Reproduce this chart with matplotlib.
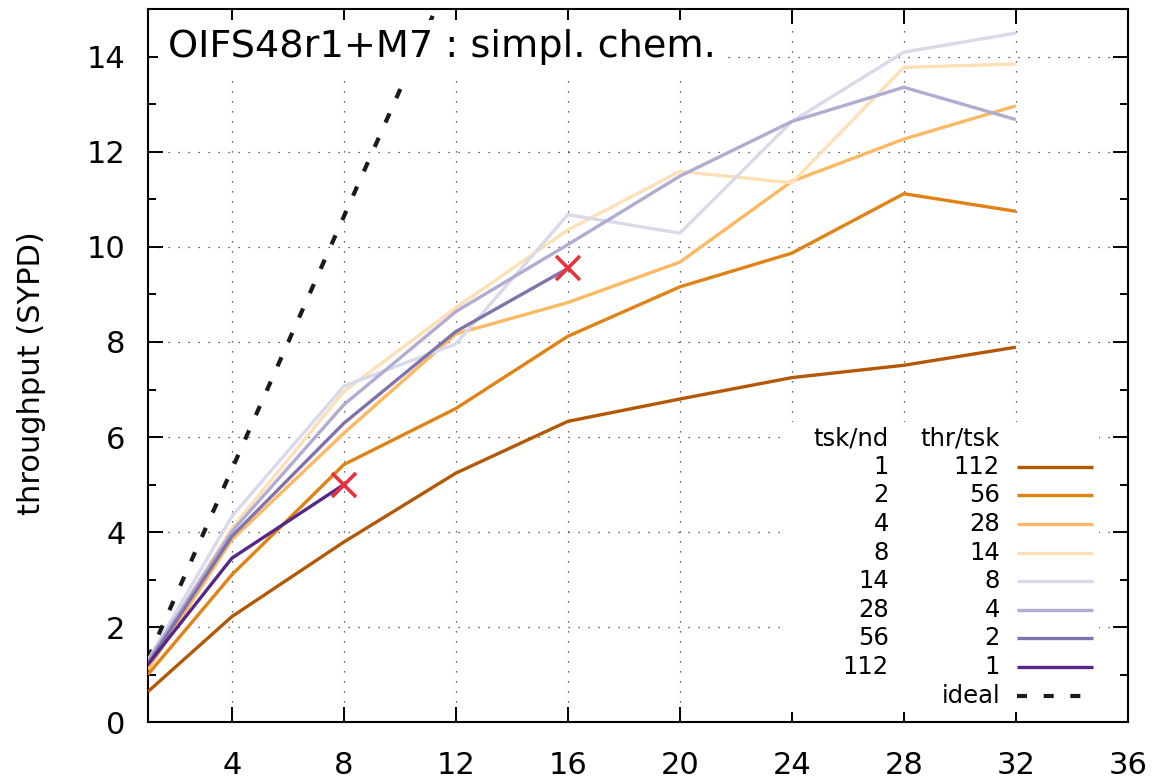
import numpy as np
import matplotlib.pyplot as plt
from matplotlib.patches import Rectangle

# nodes used in the scaling runs
nodes = [1, 4, 8, 12, 16, 20, 24, 28, 32]

# tasks per node / threads per task
tsk_per_nd = [1, 2, 4, 8, 14, 28, 56, 112]
thr_per_tsk = [112, 56, 28, 14, 8, 4, 2, 1]

# throughput (SYPD) for each layout
sypd_1x112 = [0.64, 2.22, 3.79, 5.24, 6.33, 6.80, 7.25, 7.51, 7.89]
sypd_2x56 = [1.00, 3.10, 5.42, 6.60, 8.12, 9.16, 9.87, 11.12, 10.75]
sypd_4x28 = [1.10, 3.84, 6.08, 8.17, 8.83, 9.68, 11.38, 12.27, 12.97]
sypd_8x14 = [1.25, 4.08, 6.96, 8.72, 10.36, 11.59, 11.35, 13.78, 13.85]
sypd_14x8 = [1.30, 4.33, 7.07, 7.96, 10.68, 10.29, 12.64, 14.10, 14.50]
sypd_28x4 = [1.28, 4.01, 6.68, 8.64, 10.05, 11.49, 12.64, 13.36, 12.68]
sypd_56x2 = [1.22, 3.91, 6.29, 8.22, 9.55]
sypd_112x1 = [1.21, 3.45, 5.00]

# ideal linear scaling from the single node value
ideal_x = [1, 12]
ideal_y = [1.33, 15.96]

# runs that did not finish (memory)
fail_x = [8, 16]
fail_y = [5.00, 9.55]

series = [sypd_1x112, sypd_2x56, sypd_4x28, sypd_8x14,
          sypd_14x8, sypd_28x4, sypd_56x2, sypd_112x1]
colors = ['#b35806', '#e08214', '#fdb863', '#fee0b6',
          '#d8daeb', '#b2abd2', '#8073ac', '#542788']

fig = plt.figure(figsize=(11.64, 7.79), dpi=100)
ax = fig.add_axes([0.127, 0.073, 0.842, 0.915])

for vals, c in zip(series, colors):
    ax.plot(nodes[:len(vals)], vals, color=c, lw=2.4, solid_capstyle='butt', zorder=3)

ax.plot(ideal_x, ideal_y, color='#1a1a1a', lw=3.0, dashes=(2.4, 4.0), zorder=2)
ax.plot(fail_x, fail_y, 'x', color='#e8323c', ms=17, mew=2.6, zorder=5)

ax.set_xlim(1, 36)
ax.set_ylim(0, 15)
ax.set_xticks(range(4, 37, 4))
ax.set_yticks(range(0, 15, 2))
ax.set_yticks(range(1, 15, 2), minor=True)
ax.grid(True, which='major', color='0.2', lw=0.9, linestyle=(0, (1, 7)))
ax.set_axisbelow(True)

ax.tick_params(which='both', direction='in', top=True, right=True, width=1.4, labelsize=22)
ax.tick_params(which='major', length=11)
ax.tick_params(which='minor', length=6)
ax.tick_params(axis='x', which='major', pad=21)
ax.tick_params(axis='y', which='major', pad=16)
ax.tick_params(axis='x', which='minor', top=False, bottom=False)
for s in ax.spines.values():
    s.set_linewidth(1.5)

ax.set_ylabel('throughput (SYPD)', fontsize=22)
ax.yaxis.set_label_coords(-0.104, 0.49)

ax.text(0.0204, 0.947, 'OIFS48r1+M7 : simpl. chem.', transform=ax.transAxes,
        fontsize=27.5, ha='left', va='center', zorder=6,
        bbox=dict(boxstyle='square,pad=0.25', fc='white', ec='none'))

# key box with the two layout columns
ax.add_patch(Rectangle((0.65, 0.014), 0.321, 0.407, transform=ax.transAxes,
                       fc='white', ec='none', zorder=4))
col1 = (889 - 148) / 980
col2 = (1000 - 148) / 980
seg = [(1017 - 148) / 980, (1093 - 148) / 980]
row0 = (722 - 438) / 713
drow = 28.6 / 713
fs = 17.5
ax.text(col1, row0, 'tsk/nd', transform=ax.transAxes, ha='right', va='center', fontsize=fs, zorder=6)
ax.text(col2, row0, 'thr/tsk', transform=ax.transAxes, ha='right', va='center', fontsize=fs, zorder=6)
for i, (t, h, c) in enumerate(zip(tsk_per_nd, thr_per_tsk, colors)):
    yy = row0 - (i + 1) * drow
    ax.text(col1, yy, str(t), transform=ax.transAxes, ha='right', va='center', fontsize=fs, zorder=6)
    ax.text(col2, yy, str(h), transform=ax.transAxes, ha='right', va='center', fontsize=fs, zorder=6)
    ax.plot(seg, [yy, yy], color=c, lw=2.4, transform=ax.transAxes, zorder=6, solid_capstyle='butt')
yy = row0 - 9 * drow
ax.text(col2, yy, 'ideal', transform=ax.transAxes, ha='right', va='center', fontsize=fs, zorder=6)
ax.plot(seg, [yy, yy], color='#1a1a1a', lw=3.0, dashes=(2.4, 4.0), transform=ax.transAxes, zorder=6)

fig.savefig('out.png', dpi=100)
